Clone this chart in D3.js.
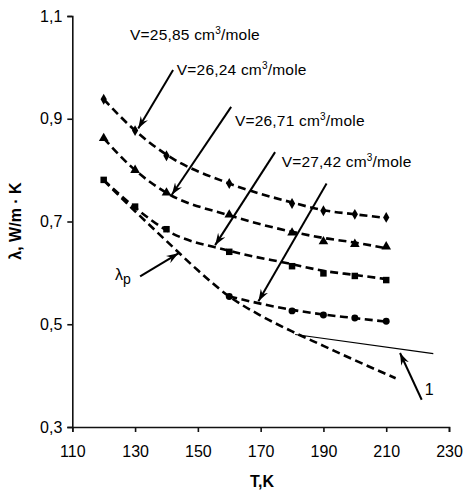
<!DOCTYPE html>
<html>
<head>
<meta charset="utf-8">
<script src="https://cdn.jsdelivr.net/npm/d3@7"></script>
<style>
  body { margin: 0; background: #fff; }
  text { font-family: "Liberation Sans", Arial, sans-serif; fill: #000; }
</style>
</head>
<body>
<div id="chart"></div>
<script>
const w = 465;
const h = 495;

// measured values, T in K, lambda in W/(m K)
const temps = [120, 130, 140, 160, 180, 190, 200, 210];
const v2585 = [0.938, 0.877, 0.828, 0.774, 0.735, 0.721, 0.714, 0.708];
const v2624 = [0.862, 0.800, 0.756, 0.713, 0.678, 0.661, 0.656, 0.651];
const v2671 = [0.781, 0.729, 0.685, 0.641, 0.613, 0.599, 0.594, 0.586];
const tempsC = [160, 180, 190, 200, 210];
const v2742 = [0.554, 0.526, 0.518, 0.512, 0.506];

// smoothed dashed curves
const fit2585 = [0.938, 0.877, 0.830, 0.774, 0.737, 0.722, 0.714, 0.707];
const fit2624 = [0.862, 0.800, 0.756, 0.712, 0.680, 0.668, 0.659, 0.648];
const fit2671 = [0.781, 0.727, 0.683, 0.643, 0.617, 0.604, 0.596, 0.588];
const fit2742 = [0.554, 0.528, 0.519, 0.512, 0.505];

// lambda_p curve and line 1
const tempsP = [120, 130, 140, 150, 160, 170, 180, 190, 200, 213];
const lamP = [0.780, 0.720, 0.662, 0.605, 0.554, 0.517, 0.486, 0.458, 0.430, 0.395];
const tempsL1 = [181, 225];
const lamL1 = [0.480, 0.443];

const xTicks = [110, 130, 150, 170, 190, 210, 230];
const yTicks = [0.3, 0.5, 0.7, 0.9, 1.1];

const x = d3.scaleLinear().domain([110, 230]).range([72.3, 449]);
const y = d3.scaleLinear().domain([0.3, 1.1]).range([427, 16]);

const svg = d3.select("#chart").append("svg")
  .attr("width", w).attr("height", h)
  .style("background", "#fff");

svg.append("defs").append("marker")
  .attr("id", "arrow")
  .attr("viewBox", "-12 -5 14 10")
  .attr("refX", 0).attr("refY", 0)
  .attr("markerWidth", 14).attr("markerHeight", 10)
  .attr("markerUnits", "userSpaceOnUse")
  .attr("orient", "auto")
  .append("path")
  .attr("d", "M0,0L-12,-4.2L-8,0L-12,4.2Z")
  .attr("fill", "#000");

const fmt = (d) => d3.format(".1f")(d).replace(".", ",");

const xAxis = d3.axisBottom(x).tickValues(xTicks).tickSize(5).tickPadding(14).tickFormat((d) => d);
const yAxis = d3.axisLeft(y).tickValues(yTicks).tickSize(5).tickPadding(5).tickFormat(fmt);

svg.append("g").attr("transform", "translate(0," + y(0.3) + ")").call(xAxis)
  .call((g) => g.selectAll("text").style("font-size", "16px"));
svg.append("g").attr("transform", "translate(" + x(110) + ",0)").call(yAxis)
  .call((g) => g.selectAll("text").style("font-size", "16px"));
svg.selectAll(".domain, .tick line").attr("stroke", "#111").attr("stroke-width", 1.6);

// axis titles
svg.append("text")
  .attr("x", 262).attr("y", 487)
  .attr("text-anchor", "middle")
  .style("font-size", "16px").style("font-weight", "bold")
  .text("T,K");
svg.append("text")
  .attr("transform", "translate(21,221) rotate(-90)")
  .attr("text-anchor", "middle")
  .style("font-size", "16px").style("font-weight", "bold")
  .text("λ, W/m · K");

const line = d3.line().x((d) => x(d[0])).y((d) => y(d[1])).curve(d3.curveMonotoneX);
const pairs = (ts, vs) => ts.map((t, i) => [t, vs[i]]);

const dashed = [
  pairs(temps, fit2585),
  pairs(temps, fit2624),
  pairs(temps, fit2671),
  pairs(tempsC, fit2742),
  pairs(tempsP, lamP)
];
svg.selectAll("path.curve").data(dashed).enter().append("path")
  .attr("class", "curve")
  .attr("d", line)
  .attr("fill", "none")
  .attr("stroke", "#000")
  .attr("stroke-width", 2.6)
  .attr("stroke-dasharray", "8,4.5");

svg.append("path")
  .attr("d", d3.line().x((d) => x(d[0])).y((d) => y(d[1]))(pairs(tempsL1, lamL1)))
  .attr("stroke", "#000").attr("stroke-width", 1.2).attr("fill", "none");

// markers
const series = [
  { vals: pairs(temps, v2585), sym: d3.symbolDiamond, size: 34 },
  { vals: pairs(temps, v2624), sym: d3.symbolTriangle, size: 40 },
  { vals: pairs(temps, v2671), sym: d3.symbolSquare, size: 42 },
  { vals: pairs(tempsC, v2742), sym: d3.symbolCircle, size: 38 }
];
series.forEach((s) => {
  svg.append("g").selectAll("path").data(s.vals).enter().append("path")
    .attr("transform", (d) => "translate(" + x(d[0]) + "," + y(d[1]) + ")")
    .attr("d", d3.symbol().type(s.sym).size(s.size))
    .attr("fill", "#000");
});

// annotations: label position and arrow, in data units
const labels = [
  { t: 128.4, v: 1.053, txt: "V=25,85 cm", from: [142.1, 0.995], to: [131.0, 0.881] },
  { t: 143.3, v: 0.985, txt: "V=26,24 cm", from: [160.6, 0.923], to: [141.7, 0.752] },
  { t: 161.8, v: 0.885, txt: "V=26,71 cm", from: [174.6, 0.835], to: [155.5, 0.654] },
  { t: 176.7, v: 0.806, txt: "V=27,42 cm", from: [191.0, 0.774], to: [169.3, 0.545] }
];
labels.forEach((l) => {
  const t = svg.append("text")
    .attr("x", x(l.t)).attr("y", y(l.v))
    .style("font-size", "15.5px").style("letter-spacing", "0.2px");
  t.append("tspan").text(l.txt);
  t.append("tspan").attr("dy", -6).style("font-size", "10px").text("3");
  t.append("tspan").attr("dy", 6).text("/mole");
  svg.append("line")
    .attr("x1", x(l.from[0])).attr("y1", y(l.from[1]))
    .attr("x2", x(l.to[0])).attr("y2", y(l.to[1]))
    .attr("stroke", "#000").attr("stroke-width", 2)
    .attr("marker-end", "url(#arrow)");
});

const lp = svg.append("text")
  .attr("x", x(123.6)).attr("y", y(0.586))
  .style("font-size", "16px");
lp.append("tspan").text("λ");
lp.append("tspan").attr("dy", 4).style("font-size", "14px").text("p");
svg.append("line")
  .attr("x1", x(131.6)).attr("y1", y(0.593))
  .attr("x2", x(143.8)).attr("y2", y(0.638))
  .attr("stroke", "#000").attr("stroke-width", 2)
  .attr("marker-end", "url(#arrow)");

svg.append("text")
  .attr("x", x(222.3)).attr("y", y(0.362))
  .style("font-size", "16px")
  .text("1");
svg.append("line")
  .attr("x1", x(221.3)).attr("y1", y(0.353))
  .attr("x2", x(214.4)).attr("y2", y(0.444))
  .attr("stroke", "#000").attr("stroke-width", 2)
  .attr("marker-end", "url(#arrow)");
</script>
</body>
</html>
